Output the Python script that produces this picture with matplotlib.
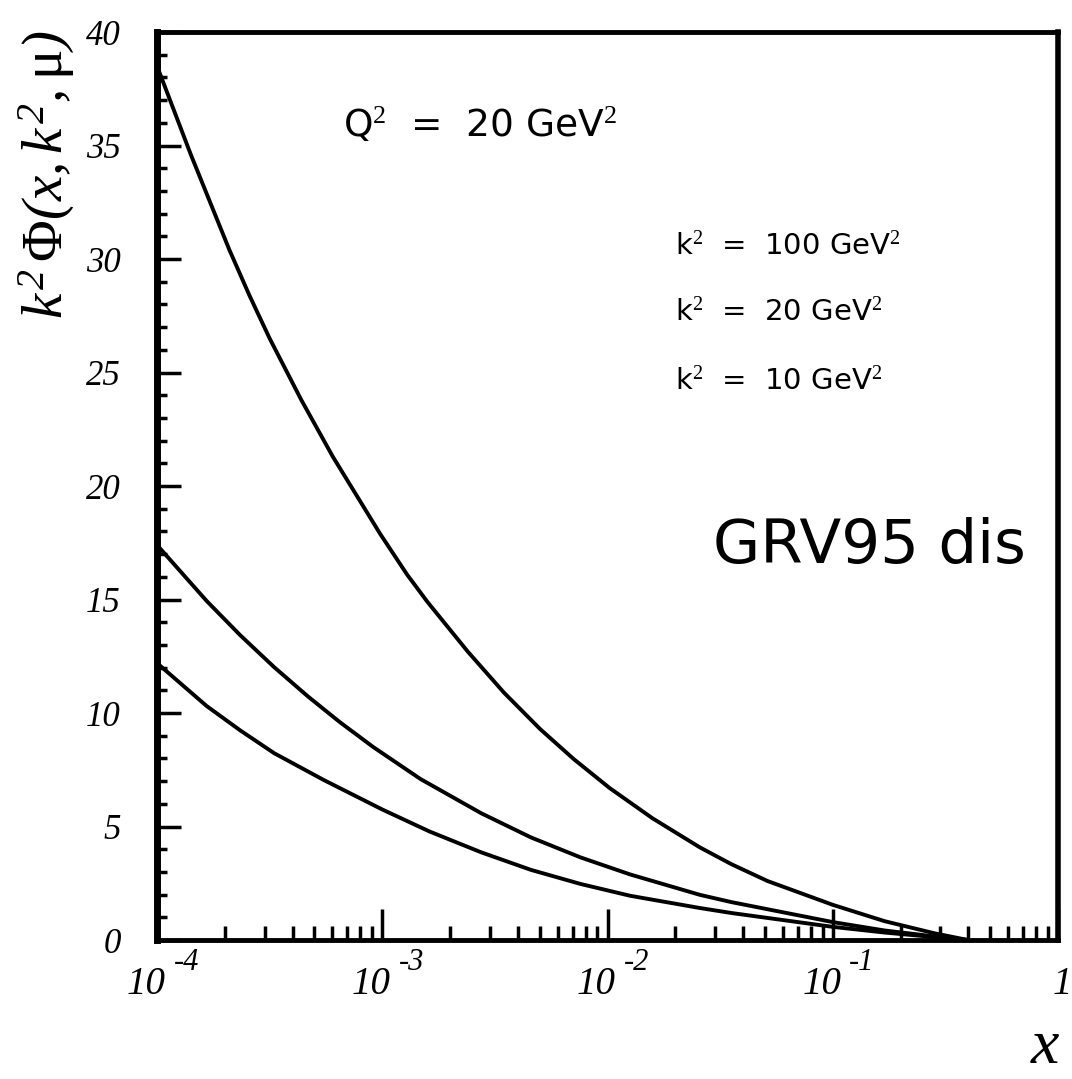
import numpy as np
import matplotlib
matplotlib.use("Agg")
import matplotlib.pyplot as plt
from matplotlib.ticker import FixedLocator, LogLocator, MultipleLocator, NullFormatter

# italic serif for numbers, upright serif kept on \mathsf for the greek letters
plt.rcParams['mathtext.fontset'] = 'custom'
plt.rcParams['mathtext.rm'] = 'Liberation Serif:italic'
plt.rcParams['mathtext.it'] = 'Liberation Serif:italic'
plt.rcParams['mathtext.sf'] = 'Liberation Serif'
plt.rcParams['mathtext.bf'] = 'Liberation Serif:bold'

# log10(x) and k^2 Phi for each k^2 curve (Q^2 = 20 GeV^2, GRV95 dis)
logx_100 = [-4.0, -3.85, -3.68, -3.59, -3.50, -3.36, -3.22, -3.01, -2.89, -2.80, -2.62, -2.46,
            -2.30, -2.15, -1.99, -1.80, -1.59, -1.45, -1.29, -1.0, -0.77, -0.55, -0.40]
phi_100 = [38.5, 34.6, 30.43, 28.4, 26.5, 23.8, 21.3, 17.9, 16.1, 14.9, 12.7, 10.9,
           9.3, 7.97, 6.69, 5.36, 4.08, 3.34, 2.6, 1.55, 0.83, 0.3, 0.0]

logx_20 = [-4.0, -3.78, -3.63, -3.48, -3.33, -3.19, -3.04, -2.83, -2.56, -2.34, -2.12, -1.90,
           -1.59, -1.45, -1.0, -0.77, -0.55, -0.40]
phi_20 = [17.4, 14.94, 13.42, 12.02, 10.73, 9.61, 8.5, 7.09, 5.58, 4.52, 3.64, 2.89,
          1.99, 1.67, 0.79, 0.42, 0.16, 0.0]

logx_10 = [-4.0, -3.78, -3.63, -3.48, -3.26, -3.0, -2.79, -2.56, -2.34, -2.12, -1.90,
           -1.59, -1.45, -1.0, -0.77, -0.55, -0.40]
phi_10 = [12.2, 10.31, 9.23, 8.23, 7.05, 5.75, 4.78, 3.86, 3.09, 2.47, 1.95,
          1.41, 1.19, 0.58, 0.33, 0.13, 0.0]

xticks = [1e-4, 1e-3, 1e-2, 1e-1, 1]
xbase = ['10', '10', '10', '10', '1']
xexpo = ['-4', '-3', '-2', '-1', '']

fig = plt.figure(figsize=(10.72, 10.79), dpi=100)
ax = fig.add_axes([0.1465, 0.1288, 0.8405, 0.8415])

for lx, ph in [(logx_100, phi_100), (logx_20, phi_20), (logx_10, phi_10)]:
    ax.plot(10 ** np.array(lx), ph, color='black', lw=2.8,
            solid_joinstyle='round', solid_capstyle='round')

ax.set_xscale('log')
ax.set_xlim(1e-4, 1)
ax.set_ylim(0, 40)

ax.xaxis.set_major_locator(FixedLocator(xticks))
ax.xaxis.set_major_formatter(NullFormatter())
ax.xaxis.set_minor_locator(LogLocator(base=10, subs=np.arange(2, 10)))
ax.xaxis.set_minor_formatter(NullFormatter())
ax.yaxis.set_major_locator(MultipleLocator(5))
ax.yaxis.set_minor_locator(MultipleLocator(1))
ax.yaxis.set_major_formatter(plt.FuncFormatter(lambda v, p: '%d' % v))

ax.tick_params(axis='both', which='both', direction='in', top=False, right=False, color='black')
ax.tick_params(axis='y', which='major', length=17, width=2.5, labelsize=25, pad=26)
ax.tick_params(axis='y', which='minor', length=7, width=2.5)
ax.tick_params(axis='x', which='major', length=22, width=2.5)
ax.tick_params(axis='x', which='minor', length=10, width=2.5)
for lab in ax.get_yticklabels():
    lab.set_fontfamily('Liberation Serif')
    lab.set_fontstyle('italic')

# x tick labels: base and raised exponent drawn separately
xtr = ax.get_xaxis_transform()
for xt, b, e in zip(xticks, xbase, xexpo):
    dx = -8 if e else 3
    ax.annotate(b, (xt, 0), xycoords=xtr, xytext=(dx, -32), textcoords='offset points',
                ha='center', va='center', family='Liberation Serif', style='italic',
                fontsize=28, annotation_clip=False)
    if e:
        ax.annotate(e, (xt, 0), xycoords=xtr, xytext=(21, -16), textcoords='offset points',
                    ha='center', va='center', family='Liberation Serif', style='italic',
                    fontsize=22, annotation_clip=False)

for side, w in [('left', 5), ('bottom', 3.5), ('top', 3.5), ('right', 4)]:
    ax.spines[side].set_linewidth(w)

fig.text(343 / 1072, 1 - 125 / 1079, 'Q$^{\\mathsf{2}}$  =  20 GeV$^{\\mathsf{2}}$',
         family='DejaVu Sans', fontsize=27, va='center', ha='left')
for yy, lab in [(247, '100'), (313, '20'), (382, '10')]:
    fig.text(675 / 1072, 1 - yy / 1079, 'k$^{\\mathsf{2}}$  =  %s GeV$^{\\mathsf{2}}$' % lab,
             family='DejaVu Sans', fontsize=21, va='center', ha='left')
fig.text(713 / 1072, 1 - 547 / 1079, 'GRV95 dis', family='DejaVu Sans', fontsize=44,
         va='center', ha='left')

fig.text(47 / 1072, 1 - 175 / 1079, r'$k^2\,\mathsf{\Phi}(x,k^2,\mathsf{\mu})$', fontsize=41,
         rotation=90, va='center', ha='center')
fig.text(1045 / 1072, 1 - 1045 / 1079, r'$x$', fontsize=46, va='center', ha='center')

fig.savefig('out.png', dpi=100)
